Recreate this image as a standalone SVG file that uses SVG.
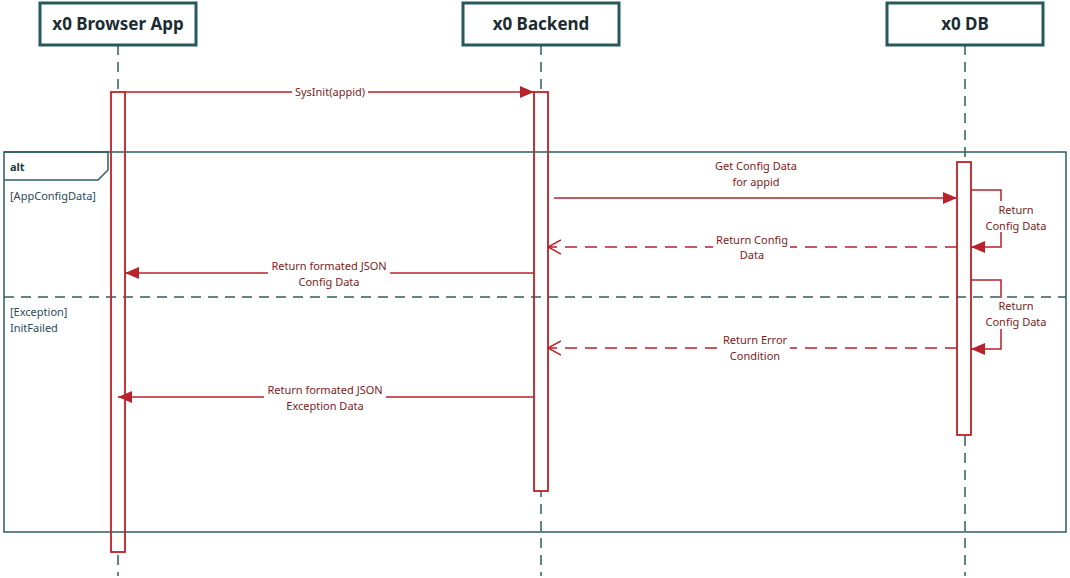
<svg xmlns="http://www.w3.org/2000/svg" width="1070" height="578" viewBox="0 0 1070 578">
<style>
.hdr{fill:#fff;stroke:#27585a;stroke-width:3}
.htxt{font-family:"Noto Sans","Open Sans",sans-serif;font-size:17px;font-weight:bold;fill:#1c2c33;text-anchor:middle}
.life{stroke:#2f5d5f;stroke-width:1.5;stroke-dasharray:10,7;fill:none}
.bar{fill:#fff;stroke:#c0282d;stroke-width:1.5}
.barline{fill:none;stroke:#c0282d;stroke-width:1.5}
.frame{fill:none;stroke:#2f5d5f;stroke-width:1.5}
.div{stroke:#2f5d5f;stroke-width:1.5;stroke-dasharray:10,7}
.msg{stroke:#b8222a;stroke-width:1.5;fill:none}
.dash{stroke:#b8222a;stroke-width:1.5;fill:none;stroke-dasharray:12,8}
.lbl{font-family:"Noto Sans","Open Sans",sans-serif;font-size:11px;fill:#7d1c1c;text-anchor:middle}
.grd{font-family:"Noto Sans","Open Sans",sans-serif;font-size:11px;fill:#2b4a5a}
.bg{fill:#fff}
</style>
<defs>
<marker id="fill" viewBox="0 0 14 12" refX="14" refY="6" markerWidth="14" markerHeight="12" markerUnits="userSpaceOnUse" orient="auto">
<path d="M0,0 L14,6 L0,12 Z" fill="#b8222a"/>
</marker>
<marker id="open" viewBox="0 0 14 16" refX="13" refY="8" markerWidth="14" markerHeight="16" markerUnits="userSpaceOnUse" orient="auto">
<path d="M0,1 L13,8 L0,15" fill="none" stroke="#b8222a" stroke-width="1.5"/>
</marker>
</defs>

<g id="lifelines">
<line class="life" x1="118" y1="45" x2="118" y2="576"/>
<line class="life" x1="541" y1="45" x2="541" y2="576"/>
<line class="life" x1="965" y1="45" x2="965" y2="576"/>
</g>

<g id="activations">
<rect class="bar" x="111" y="92" width="14" height="460"/>
<rect class="bar" x="534" y="92" width="14" height="399"/>
<rect class="bar" x="957" y="162" width="14" height="273"/>
</g>

<g id="alt-frame">
<rect class="frame" x="4" y="152" width="1062" height="380"/>
<path class="frame" d="M4,152 L108,152 L108,170 L98,180 L4,180"/>
<line class="div" x1="4" y1="297" x2="1066" y2="297"/>
<text x="10" y="171" font-family="Noto Sans,Open Sans,sans-serif" font-size="11px" font-weight="bold" fill="#1c3a44">alt</text>
<text class="grd" x="10" y="200">[AppConfigData]</text>
<text class="grd" x="10" y="316">[Exception]</text>
<text class="grd" x="10" y="332">InitFailed</text>
</g>

<g id="activation-outlines">
<rect class="barline" x="111" y="92" width="14" height="460"/>
<rect class="barline" x="534" y="92" width="14" height="399"/>
<rect class="barline" x="957" y="162" width="14" height="273"/>
</g>

<g id="header-browser">
<rect class="hdr" x="40" y="3" width="156" height="42"/>
<text class="htxt" x="118" y="30">x0 Browser App</text>
</g>
<g id="header-backend">
<rect class="hdr" x="463" y="3" width="156" height="42"/>
<text class="htxt" x="541" y="30">x0 Backend</text>
</g>
<g id="header-db">
<rect class="hdr" x="887" y="3" width="156" height="42"/>
<text class="htxt" x="965" y="30">x0 DB</text>
</g>

<g id="connectors">
<line class="msg" x1="125" y1="92" x2="534" y2="92" marker-end="url(#fill)"/>
<line class="msg" x1="554" y1="198" x2="957" y2="198" marker-end="url(#fill)"/>
<polyline class="msg" points="971,190 1001,190 1001,247 971,247" marker-end="url(#fill)"/>
<line class="dash" x1="957" y1="247" x2="548" y2="247" marker-end="url(#open)"/>
<line class="msg" x1="534" y1="273" x2="125" y2="273" marker-end="url(#fill)"/>
<polyline class="msg" points="971,280 1001,280 1001,349 971,349" marker-end="url(#fill)"/>
<line class="dash" x1="957" y1="348" x2="548" y2="348" marker-end="url(#open)"/>
<line class="msg" x1="534" y1="397" x2="118" y2="397" marker-end="url(#fill)"/>
</g>

<g id="labels">
<rect class="bg" x="292" y="85" width="76" height="14"/>
<text class="lbl" x="330" y="96">SysInit(appid)</text>

<text class="lbl" x="756" y="170">Get Config Data</text>
<text class="lbl" x="756" y="186">for appid</text>

<rect class="bg" x="985" y="201" width="62" height="31"/>
<text class="lbl" x="1016" y="214">Return</text>
<text class="lbl" x="1016" y="230">Config Data</text>

<rect class="bg" x="713" y="240" width="77" height="14"/>
<text class="lbl" x="752" y="244">Return Config</text>
<text class="lbl" x="752" y="259">Data</text>

<rect class="bg" x="268" y="266" width="122" height="14"/>
<text class="lbl" x="329" y="270">Return formated JSON</text>
<text class="lbl" x="329" y="286">Config Data</text>

<rect class="bg" x="985" y="298" width="62" height="31"/>
<text class="lbl" x="1016" y="310">Return</text>
<text class="lbl" x="1016" y="326">Config Data</text>

<rect class="bg" x="720" y="341" width="70" height="14"/>
<text class="lbl" x="755" y="344">Return Error</text>
<text class="lbl" x="755" y="360">Condition</text>

<rect class="bg" x="264" y="390" width="122" height="14"/>
<text class="lbl" x="325" y="394">Return formated JSON</text>
<text class="lbl" x="325" y="410">Exception Data</text>
</g>
</svg>
